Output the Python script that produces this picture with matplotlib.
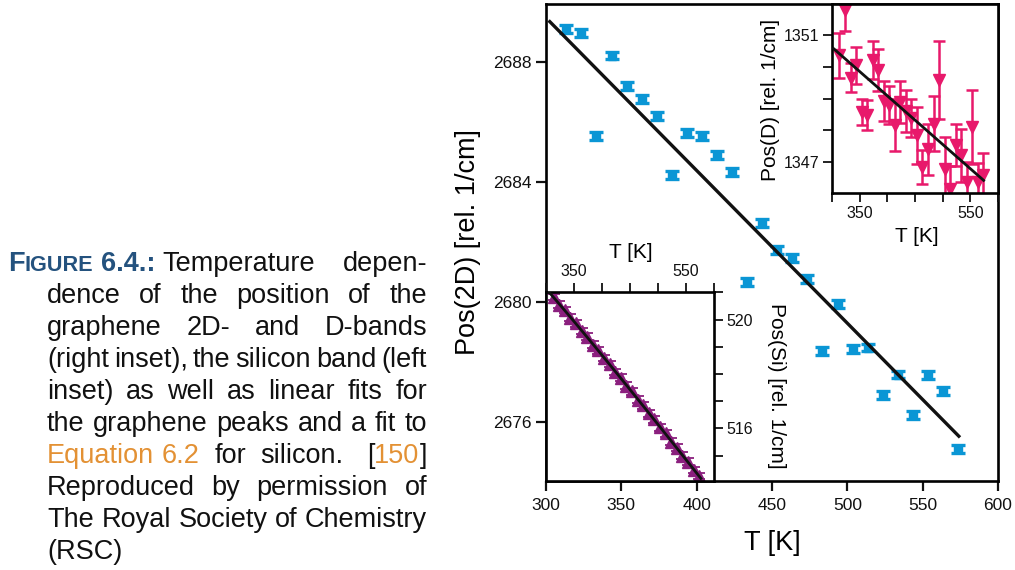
import numpy as np
import matplotlib
matplotlib.use("Agg")
import matplotlib.pyplot as plt
from matplotlib.ticker import MultipleLocator, FixedLocator, FuncFormatter

# ---------------------------------------------------------------- data
# measurement temperatures (K)
temps = [313.5, 323.5, 333.5, 343.5, 353.5, 363.5, 373.5, 383.5, 393.5,
         403.5, 413.5, 423.5, 433.5, 443.5, 453.5, 463.5, 473.5, 483.5,
         493.5, 503.5, 513.5, 523.5, 533.5, 543.5, 553.5, 563.5, 573.5]

# graphene 2D band position (rel. 1/cm)
pos_2d = [2689.09, 2688.96, 2685.53, 2688.21, 2687.20, 2686.77, 2686.21,
          2684.23, 2685.64, 2685.53, 2684.89, 2684.34, 2680.66, 2682.62,
          2681.73, 2681.47, 2680.76, 2678.37, 2679.93, 2678.44, 2678.48,
          2676.89, 2677.58, 2676.23, 2677.56, 2677.03, 2675.11]
err_2d = 0.13

# graphene D band position (rel. 1/cm)
pos_d = [1350.37, 1351.79, 1349.66, 1350.05, 1348.58, 1348.47, 1350.21,
         1349.89, 1348.92, 1348.80, 1348.16, 1348.90, 1348.60, 1348.40,
         1347.84, 1346.84, 1347.40, 1348.21, 1349.58, 1346.79, 1346.16,
         1347.53, 1347.21, 1346.37, 1348.10, 1346.37, 1346.58]
err_d = [0.71, 0.65, 0.45, 0.58, 0.42, 0.47, 0.60, 0.66, 0.63, 0.60, 0.82,
         0.66, 0.66, 0.60, 0.90, 0.55, 0.80, 0.87, 1.23, 1.00, 0.70, 0.66,
         0.84, 0.63, 1.16, 0.60, 0.70]

# silicon band position (rel. 1/cm)
pos_si = [520.83, 520.55, 520.35, 520.07, 519.86, 519.58, 519.37, 519.08,
          518.87, 518.59, 518.37, 518.08, 517.87, 517.57, 517.36, 517.06,
          516.85, 516.55, 516.33, 516.04, 515.82, 515.52, 515.30, 515.00,
          514.78, 514.48, 514.26]
err_si = 0.12

# linear fits: (slope [1/(cm K)], intercept [1/cm]) and fitted T range
fit_2d = (-0.0509, 2704.74)
fit_d = (-0.01532, 1355.213)
fit_range = (302.5, 574.0)

# silicon fit: omega0 + A * (1 + 2 / (exp(theta / T) - 1))
si_omega0, si_amp, si_theta = 530.29, -5.13, 380.0
si_fit_range = (300.0, 576.5)

# ---------------------------------------------------------------- style
W, H = 1015, 570
C_2D = "#0a96d5"
C_D = "#e8196b"
C_SI = "#8b1f7e"
C_FIT = "#111111"
FONT = "Liberation Sans"

plt.rcParams["font.family"] = [FONT, "DejaVu Sans"]
plt.rcParams["axes.linewidth"] = 1.9

fig = plt.figure(figsize=(W / 100, H / 100), dpi=100)


def px_axes(left, top, right, bottom):
    """Axes rectangle given in pixel edges (origin top-left)."""
    return fig.add_axes([left / W, (H - bottom) / H,
                         (right - left) / W, (bottom - top) / H])


def only(values):
    return FuncFormatter(lambda v, p: f"{v:.0f}" if any(abs(v - k) < 1e-6 for k in values) else "")


# ---------------------------------------------------------------- main axes (2D band)
ax = px_axes(546, 4, 998, 481)
ax.errorbar(temps, pos_2d, yerr=err_2d, fmt="s", ms=6.2, color=C_2D,
            ecolor=C_2D, elinewidth=2.4, capsize=4.8, capthick=2.4, zorder=2)
tf = np.linspace(*fit_range, 50)
ax.plot(tf, fit_2d[0] * tf + fit_2d[1], color=C_FIT, lw=2.4, zorder=3)
ax.set_xlim(300, 600)
ax.set_ylim(2674.03, 2689.93)
ax.xaxis.set_major_locator(MultipleLocator(50))
ax.yaxis.set_major_locator(FixedLocator([2676, 2680, 2684, 2688]))
ax.tick_params(direction="out", length=7.5, width=1.6, labelsize=12.5,
               colors="#111111")
ax.tick_params(axis="x", pad=5)
ax.tick_params(axis="y", pad=2.5)
ax.set_xlabel("T [K]", fontsize=19.5, va="center")
ax.xaxis.set_label_coords(0.5, -0.13)
ax.set_ylabel("Pos(2D) [rel. 1/cm]", fontsize=19.5, va="center")
ax.yaxis.set_label_coords(-0.173, 0.5)

# ---------------------------------------------------------------- right inset (D band)
axd = px_axes(832, 4, 998, 193)
axd.errorbar(temps, pos_d, yerr=err_d, fmt="v", ms=8, color=C_D,
             ecolor=C_D, elinewidth=1.8, capsize=4.0, capthick=1.8, zorder=2)
axd.plot(tf, fit_d[0] * tf + fit_d[1], color=C_FIT, lw=2.0, zorder=3)
axd.set_xlim(300, 600)
axd.set_ylim(1346.02, 1351.98)
axd.xaxis.set_major_locator(MultipleLocator(50))
axd.xaxis.set_major_formatter(only([350, 550]))
axd.yaxis.set_major_locator(MultipleLocator(1))
axd.yaxis.set_major_formatter(only([1347, 1351]))
axd.tick_params(direction="out", length=6.5, width=1.3, labelsize=11.5,
                colors="#111111", pad=2.5)
axd.set_xlabel("T [K]", fontsize=15, va="center")
axd.xaxis.set_label_coords(0.512, -0.228)
axd.set_ylabel("Pos(D) [rel. 1/cm]", fontsize=15, va="center")
axd.yaxis.set_label_coords(-0.373, 0.495)

# ---------------------------------------------------------------- left inset (Si band)
axs = px_axes(546, 292, 714, 481)
axs.errorbar(temps, pos_si, yerr=err_si, fmt="^", ms=8, color=C_SI,
             ecolor=C_SI, elinewidth=1.3, capsize=4.2, capthick=1.3, zorder=2)
ts = np.linspace(*si_fit_range, 120)
axs.plot(ts, si_omega0 + si_amp * (1 + 2 / (np.exp(si_theta / ts) - 1)),
         color=C_FIT, lw=2.0, zorder=3)
axs.set_xlim(300, 600)
axs.set_ylim(514.07, 521.01)
axs.xaxis.tick_top()
axs.xaxis.set_label_position("top")
axs.yaxis.tick_right()
axs.yaxis.set_label_position("right")
axs.xaxis.set_major_locator(MultipleLocator(50))
axs.xaxis.set_major_formatter(only([350, 550]))
axs.yaxis.set_major_locator(MultipleLocator(1))
axs.yaxis.set_major_formatter(only([516, 520]))
axs.tick_params(direction="out", length=6.5, width=1.3, labelsize=11.5,
                colors="#111111", pad=2.5)
axs.set_xlabel("T [K]", fontsize=15, va="center")
axs.xaxis.set_label_coords(0.503, 1.209)
axs.set_ylabel("Pos(Si) [rel. 1/cm]", fontsize=15, va="center", rotation=270)
axs.yaxis.set_label_coords(1.373, 0.504)

# ---------------------------------------------------------------- caption (justified)
CAP_SIZE = 19.5
styles = {
    "lb": dict(fontsize=CAP_SIZE, fontweight="bold", color="#24527e"),
    "ls": dict(fontsize=CAP_SIZE * 0.8, fontweight="bold", color="#24527e"),
    "b": dict(fontsize=CAP_SIZE, color="#111111"),
    "o": dict(fontsize=CAP_SIZE, color="#e39134"),
}
SP = ("", "sp")        # natural space
G = ("", "gap")        # stretchable space


def gap(w):
    return ("", "gap", w)


caption = [
    [("F", "lb"), ("IGURE", "ls"), SP, ("6.4.:", "lb"), SP, ("Temperature", "b"), G, ("depen-", "b")],
    [("dence", "b"), G, ("of", "b"), G, ("the", "b"), G, ("position", "b"), G, ("of", "b"), G, ("the", "b")],
    [("graphene", "b"), G, ("2D-", "b"), G, ("and", "b"), G, ("D-bands", "b")],
    [("(right", "b"), G, ("inset),", "b"), G, ("the", "b"), G, ("silicon", "b"), G, ("band", "b"), G, ("(left", "b")],
    [("inset)", "b"), G, ("as", "b"), G, ("well", "b"), G, ("as", "b"), G, ("linear", "b"), G, ("fits", "b"), G, ("for", "b")],
    [("the", "b"), G, ("graphene", "b"), G, ("peaks", "b"), G, ("and", "b"), G, ("a", "b"), G, ("fit", "b"), G, ("to", "b")],
    [("Equation", "o"), SP, ("6.2", "o"), G, ("for", "b"), G, ("silicon.", "b"), gap(2.2), ("[", "b"), ("150", "o"), ("]", "b")],
    [("Reproduced", "b"), G, ("by", "b"), G, ("permission", "b"), G, ("of", "b")],
    [("The", "b"), G, ("Royal", "b"), G, ("Society", "b"), G, ("of", "b"), G, ("Chemistry", "b")],
    [("(RSC)", "b")],
]
line_left = [8] + [47] * 9
line_right = 427
baseline0, line_step = 270.7, 32.0

renderer = fig.canvas.get_renderer()


def raw_width(s, st):
    t = fig.text(0, 0, s, **st)
    w = t.get_window_extent(renderer).width
    t.remove()
    return w


def advance(s, st):
    return raw_width("|" + s + "|", st) - raw_width("||", st)


space_w = advance(" ", styles["b"])

for i, tokens in enumerate(caption):
    y = baseline0 + i * line_step
    natural = 0.0
    weights = 0.0
    for tok in tokens:
        if tok[1] in ("sp", "gap"):
            natural += space_w
            if tok[1] == "gap":
                weights += tok[2] if len(tok) > 2 else 1.0
        else:
            natural += advance(tok[0], styles[tok[1]])
    extra = (line_right - line_left[i] - natural) / weights if weights else 0.0
    x = line_left[i]
    for tok in tokens:
        if tok[1] == "sp":
            x += space_w
        elif tok[1] == "gap":
            x += space_w + extra * (tok[2] if len(tok) > 2 else 1.0)
        else:
            st = styles[tok[1]]
            fig.text(x / W, (H - y) / H, tok[0], ha="left", va="baseline", **st)
            x += advance(tok[0], st)

fig.savefig("out.png", dpi=100)
